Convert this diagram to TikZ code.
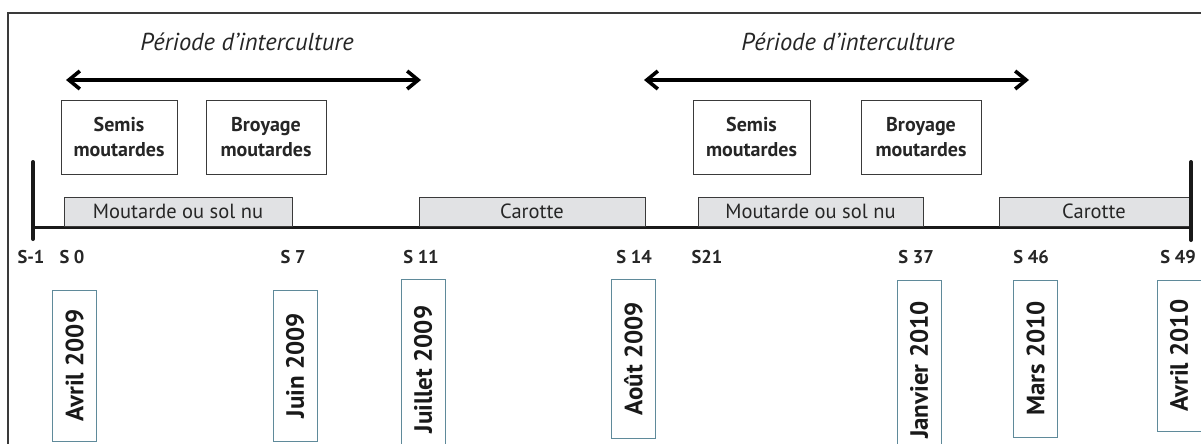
\documentclass[tikz,border=0pt]{standalone}
\usepackage{fontspec}
\setmainfont{PT Sans}
\usetikzlibrary{arrows.meta}
\definecolor{framegray}{HTML}{3A3A3A}
\definecolor{barfill}{HTML}{E1E2E4}
\definecolor{dateblue}{HTML}{5F8A9A}
\begin{document}
\begin{tikzpicture}[x=1pt,y=-1pt,
  frameline/.style={draw=framegray,line width=1.6pt},
  titletext/.style={font=\fontsize{24.5}{28}\selectfont\itshape,text=black!85},
  period/.style={line width=3.6pt,{Straight Barb[length=11pt,width=18pt]}-{Straight Barb[length=11pt,width=18pt]}},
  actbox/.style={draw=framegray,line width=0.9pt,minimum width=#1,minimum height=74pt,inner sep=0pt,align=center,font=\fontsize{20}{25}\selectfont\bfseries,text=black!85},
  cropbar/.style={draw=framegray,line width=0.9pt,fill=barfill,minimum width=#1,minimum height=29pt,inner sep=0pt,font=\fontsize{20.5}{22}\selectfont,text=black!85},
  axisline/.style={line width=3pt,draw=black!90},
  tickmark/.style={line width=4pt,draw=black!90,line cap=round},
  weeklabel/.style={inner sep=0pt,font=\fontsize{18.5}{20}\selectfont\bfseries,text=black!85},
  datebox/.style={draw=dateblue,line width=0.9pt,rotate=90,minimum width=#1,minimum height=44pt,inner sep=0pt,font=\fontsize{25}{28}\selectfont\bfseries,text=black!90}
]
\clip (0,0) rectangle (1201,444);
\fill[white] (0,0) rectangle (1201,444);
% frame
\draw[frameline] (8,470) -- (8,13) -- (1220,13);
% titles
\node[titletext] (t1) at (247,42) {Période d’interculture};
\node[titletext] (t2) at (848,42) {Période d’interculture};
% arrows
\coordinate (a1l) at (66,80);
\coordinate (a1r) at (421,80);
\coordinate (a2l) at (644,80);
\coordinate (a2r) at (1029,80);
\draw[period] (a1l) -- (a1r);
\draw[period] (a2l) -- (a2r);
% activity boxes
\node[actbox=116pt] (semis1) at (119,137) {Semis\\moutardes};
\node[actbox=120pt] (broy1) at (266,137) {Broyage\\moutardes};
\node[actbox=117pt] (semis2) at (751.5,137) {Semis\\moutardes};
\node[actbox=120pt] (broy2) at (921,137) {Broyage\\moutardes};
% axis
\coordinate (axL) at (33,227);
\coordinate (axR) at (1191,227);
\coordinate (tkLt) at (33,162);
\coordinate (tkLb) at (33,239);
\coordinate (tkRt) at (1191,162);
\coordinate (tkRb) at (1191,240);
\draw[axisline] (axL) -- (axR);
% crop bars
\node[cropbar=228pt] (bar1) at (178,211.5) {Moutarde ou sol nu};
\node[cropbar=226pt] (bar2) at (532,211.5) {Carotte};
\node[cropbar=225pt] (bar3) at (810.5,211.5) {Moutarde ou sol nu};
\node[cropbar=190pt] (bar4) at (1094,211.5) {Carotte};
\draw[tickmark] (tkLt) -- (tkLb);
\draw[tickmark] (tkRt) -- (tkRb);
% week labels
\node[weeklabel] (wm1) at (31,257) {S-1};
\node[weeklabel] (w0) at (72,257) {S 0};
\node[weeklabel] (w7) at (293,257) {S 7};
\node[weeklabel] (w11) at (421,257) {S 11};
\node[weeklabel] (w14) at (634,257) {S 14};
\node[weeklabel] (w21) at (707,257) {S21};
\node[weeklabel] (w37) at (916,257) {S 37};
\node[weeklabel] (w46) at (1031,257) {S 46};
\node[weeklabel] (w49) at (1178,257) {S 49};
% date boxes
\node[datebox=151pt] (d1) at (74.5,365.5) {Avril 2009};
\node[datebox=151pt] (d2) at (295,365.5) {Juin 2009};
\node[datebox=181pt] (d3) at (423,369.5) {Juillet 2009};
\node[datebox=159pt] (d4) at (633.5,358.5) {Août 2009};
\node[datebox=180pt] (d5) at (919,370) {Janvier 2010};
\node[datebox=157pt] (d6) at (1035.5,358.5) {Mars 2010};
\node[datebox=151pt] (d7) at (1179,355.5) {Avril 2010};
\end{tikzpicture}
\end{document}
